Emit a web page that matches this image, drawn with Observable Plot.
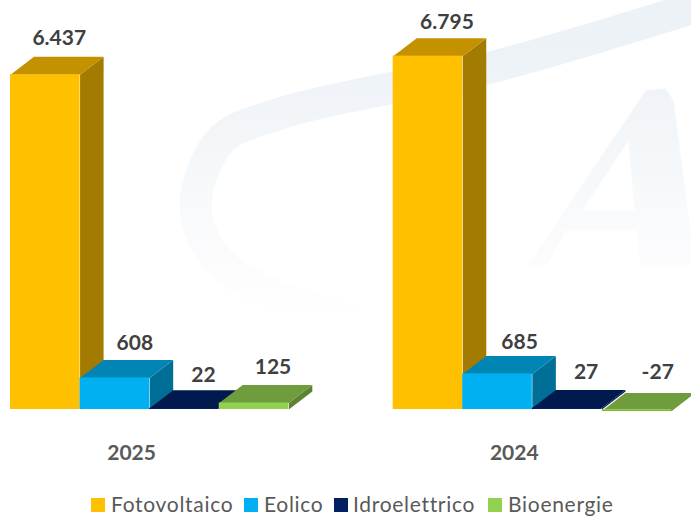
<!DOCTYPE html>
<html>
<head>
<meta charset="utf-8">
<script src="https://cdn.jsdelivr.net/npm/d3@7"></script>
<script src="https://cdn.jsdelivr.net/npm/@observablehq/plot@0.6"></script>
<style>
html,body{margin:0;padding:0;background:#fff;width:691px;height:516px;overflow:hidden}
#legend{position:absolute;left:0;top:490px;width:691px;height:26px;font:21px Lato,sans-serif;letter-spacing:.7px;color:#595959}
#legend span{position:absolute;top:1px;line-height:26px;white-space:nowrap}
#legend i{position:absolute;top:8px;width:14px;height:14px}
</style>
</head>
<body>
<div id="chart"></div>
<div id="legend"></div>
<script>
// Data
const years = ["2025", "2024"];
const sources = ["Fotovoltaico", "Eolico", "Idroelettrico", "Bioenergie"];
const values2025 = [6437, 608, 22, 125];
const values2024 = [6795, 685, 27, -27];

// Colours per source: front, top and side faces
const frontColors = ["#ffc000", "#00b0f0", "#002060", "#92d050"];
const topColors = ["#c49200", "#0085b5", "#001a4f", "#6f9d3d"];
const sideColors = ["#a37b00", "#006f97", "#001840", "#5b8332"];

// 3D extrusion, in scale units
const depthX = 0.338;
const depthY = 346;
const yearSlots = [0, 5.5];
const labelDx = [[14, 20, 19, 19], [19, 22, 19, 21]];
const labelDy = [[-19, -17, -15, -18], [-16, -14, -18, -19]];

// Background watermark, in scale units
const swooshX = [9.92, 6.9, 5.5, 3.88, 3.02, 2.66, 2.98, 3.74, 4.99];
const swooshV = [7769, 6577, 6192, 5692, 5173, 3885, 2865, 2231, 1712];
const letterX = [7.43, 9.13, 9.41, 9.53, 9.84, 9.05, 9.0, 7.98, 7.72];
const letterV = [2769, 6135, 6173, 5942, 2769, 2769, 3442, 3442, 2769];
const holeX = [8.88, 8.97, 8.22];
const holeV = [5173, 3827, 3827];

const toPts = (xs, vs) => xs.map((x, i) => ({x, v: vs[i]}));
const defs = () => {
  const ns = "http://www.w3.org/2000/svg";
  const d = document.createElementNS(ns, "defs");
  const g = document.createElementNS(ns, "linearGradient");
  g.setAttribute("id", "wm");
  g.setAttribute("gradientUnits", "userSpaceOnUse");
  g.setAttribute("x1", 0); g.setAttribute("x2", 0);
  g.setAttribute("y1", 50); g.setAttribute("y2", 315);
  [["0", "#edf2f7"], ["0.45", "#f5f8fa"], ["0.8", "#fcfcfd"], ["1", "#ffffff"]].forEach(([o, c]) => {
    const s = document.createElementNS(ns, "stop");
    s.setAttribute("offset", o); s.setAttribute("stop-color", c);
    g.appendChild(s);
  });
  d.appendChild(g);
  return d;
};

const barMarks = [];
[values2025, values2024].forEach((vals, yi) => {
  vals.forEach((v, i) => {
    const x0 = yearSlots[yi] + i, x1 = x0 + 1;
    const top = Math.max(v, 0) , low = Math.min(v, 0);
    const faceTop = v < 0 ? low : top;
    const topFace = [
      {x: x0, v: faceTop}, {x: x1, v: faceTop},
      {x: x1 + depthX, v: faceTop + depthY}, {x: x0 + depthX, v: faceTop + depthY}
    ];
    const sideFace = [
      {x: x1, v: low}, {x: x1, v: top},
      {x: x1 + depthX, v: top + depthY}, {x: x1 + depthX, v: low + depthY}
    ];
    barMarks.push(
      Plot.line(sideFace, {x: "x", y: "v", fill: sideColors[i], stroke: "none"}),
      Plot.line(topFace, {x: "x", y: "v", fill: topColors[i], stroke: "none"}),
      Plot.rect([{x0, x1, low, top}], {x1: "x0", x2: "x1", y1: "low", y2: "top", fill: frontColors[i], inset: 0})
    );
  });
});

const labelMarks = [];
[values2025, values2024].forEach((vals, yi) => {
  vals.forEach((v, i) => {
    labelMarks.push(Plot.text([{x: yearSlots[yi] + i + 0.5, v: Math.max(v, 0) + depthY, s: String(v).replace(/(\d)(\d{3})$/, "$1.$2")}], {
      x: "x", y: "v", text: "s", dx: labelDx[yi][i], dy: labelDy[yi][i],
      fontSize: 21, fontWeight: 700, fill: "#404040"
    }));
  });
});

const chart = Plot.plot({
  width: 691, height: 490,
  marginLeft: 10, marginRight: 20, marginTop: 0, marginBottom: 81,
  style: {fontFamily: "Lato, sans-serif", background: "transparent"},
  x: {domain: [0, 9.5]},
  y: {domain: [0, 7865], axis: null},
  marks: [
    defs,
    Plot.line(toPts(swooshX, swooshV), {x: "x", y: "v", stroke: "url(#wm)", strokeWidth: 32, curve: "catmull-rom"}),
    Plot.line(toPts(letterX, letterV), {x: "x", y: "v", fill: "url(#wm)", stroke: "none"}),
    Plot.line(toPts(holeX, holeV), {x: "x", y: "v", fill: "#fff", stroke: "none"}),
    barMarks,
    labelMarks,
    Plot.axisX({
      ticks: [1.74, 7.24],
      tickFormat: d => years[d < 5 ? 0 : 1],
      tickSize: 0, tickPadding: 36, label: null,
      fontSize: 21, fontWeight: 700, fill: "#595959"
    })
  ]
});
document.getElementById("chart").appendChild(chart);

// Legend
const swatchLeft = [91, 244, 334, 488];
const textLeft = [111, 264, 353, 508];
const legend = document.getElementById("legend");
sources.forEach((s, i) => {
  const sw = document.createElement("i");
  sw.style.left = swatchLeft[i] + "px";
  sw.style.background = frontColors[i];
  legend.appendChild(sw);
  const t = document.createElement("span");
  t.style.left = textLeft[i] + "px";
  t.textContent = s;
  legend.appendChild(t);
});
</script>
</body>
</html>
